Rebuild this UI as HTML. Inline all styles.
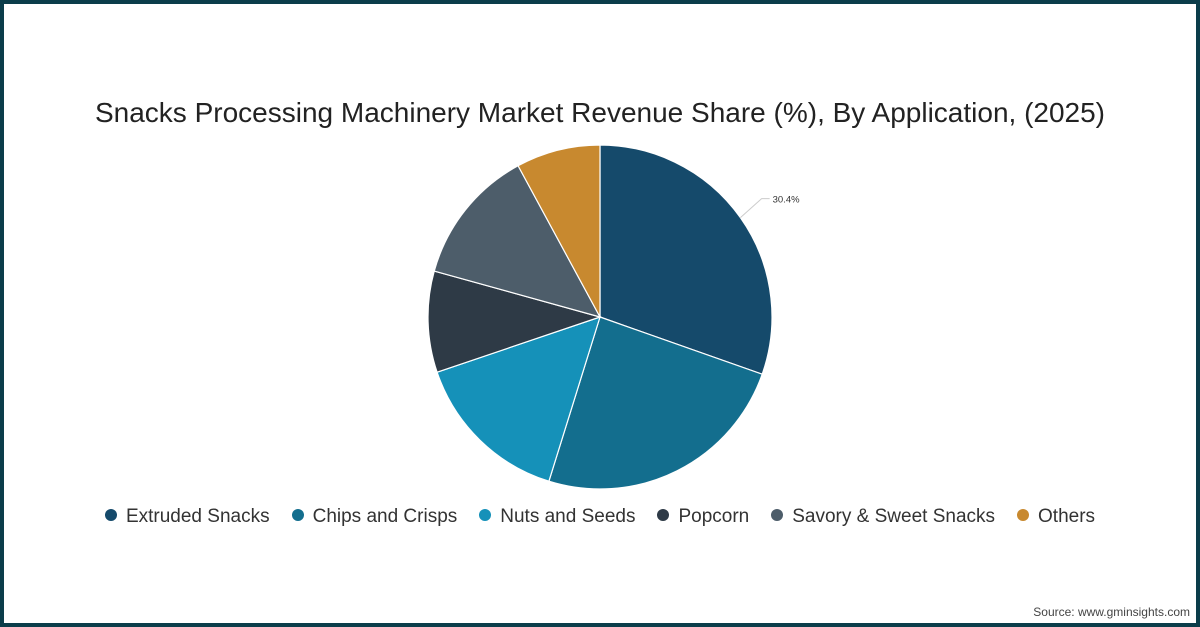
<!DOCTYPE html>
<html><head><meta charset="utf-8">
<style>
html,body{margin:0;padding:0;}
body{width:1200px;height:627px;background:#fff;position:relative;overflow:hidden;font-family:"Liberation Sans",sans-serif;}
.frame{position:absolute;left:0;top:0;width:1192px;height:619px;border:4px solid #0b3d4a;}
.title{position:absolute;left:0;width:1200px;top:97px;text-align:center;font-size:28px;color:#222;}
.legend{position:absolute;top:506px;left:0;width:1200px;text-align:center;font-size:19px;color:#333;}
.li{display:inline-block;margin:0 11px;}
.dot{display:inline-block;width:12px;height:12px;border-radius:50%;margin-right:9px;vertical-align:1px;}
.src{position:absolute;right:10px;bottom:8px;font-size:12px;color:#444;}
</style></head>
<body>
<div class="frame"></div>
<div class="title">Snacks Processing Machinery Market Revenue Share (%), By Application, (2025)</div>
<svg id="pie" width="1200" height="627" style="position:absolute;left:0;top:0"></svg>
<div class="legend" id="legend"></div>
<div class="src">Source: www.gminsights.com</div>
<script>
const categories=["Extruded Snacks","Chips and Crisps","Nuts and Seeds","Popcorn","Savory & Sweet Snacks","Others"];
const values=[30.4,24.4,15.0,9.5,12.8,7.9];
const colors=["#154a6b","#136e8e","#1591b9","#2e3a46","#4d5d6a","#c8892f"];
const labels=["30.4%"];
const svg=document.getElementById('pie');
const NS="http://www.w3.org/2000/svg";
const cx=600,cy=317,r=172;
const total=values.reduce((a,b)=>a+b,0);
function pt(a,rr){return [cx+rr*Math.sin(a),cy-rr*Math.cos(a)];}
let a0=0;
values.forEach((v,i)=>{
  const a1=a0+v/total*2*Math.PI;
  const p0=pt(a0,r),p1=pt(a1,r);
  const large=(a1-a0)>Math.PI?1:0;
  const p=document.createElementNS(NS,'path');
  p.setAttribute('d',`M${cx},${cy}L${p0[0]},${p0[1]}A${r},${r} 0 ${large} 1 ${p1[0]},${p1[1]}Z`);
  p.setAttribute('fill',colors[i]);
  p.setAttribute('stroke','#fff');
  p.setAttribute('stroke-width','1.2');
  
  
  svg.appendChild(p);
  if(labels[i]){
    const m=(a0+a1)/2;
    const q0=pt(m,r),q1=pt(m,r+26);
    const l=document.createElementNS(NS,'path');
    l.setAttribute('d',`M${q0[0]},${q0[1]}L${q1[0]},${q1[1]-4}L${q1[0]+8},${q1[1]-4}`);
    l.setAttribute('stroke','#ccc');l.setAttribute('fill','none');
    
    
    svg.appendChild(l);
    const t=document.createElementNS(NS,'text');
    t.setAttribute('x',q1[0]+11);t.setAttribute('y',q1[1]);
    t.setAttribute('font-size','9.5');t.setAttribute('fill','#333');
    t.setAttribute('font-family','Liberation Sans, sans-serif');
    t.textContent=labels[i];
    
    
    svg.appendChild(t);
  }
  a0=a1;
});
const lg=document.getElementById('legend');
categories.forEach((c,i)=>{
  const s=document.createElement('span');s.className='li';
  
  
  s.innerHTML='<span class="dot" style="background:'+colors[i]+'"></span>'+c.replace('&','&amp;');
  lg.appendChild(s);
});
</script>
</body></html>
